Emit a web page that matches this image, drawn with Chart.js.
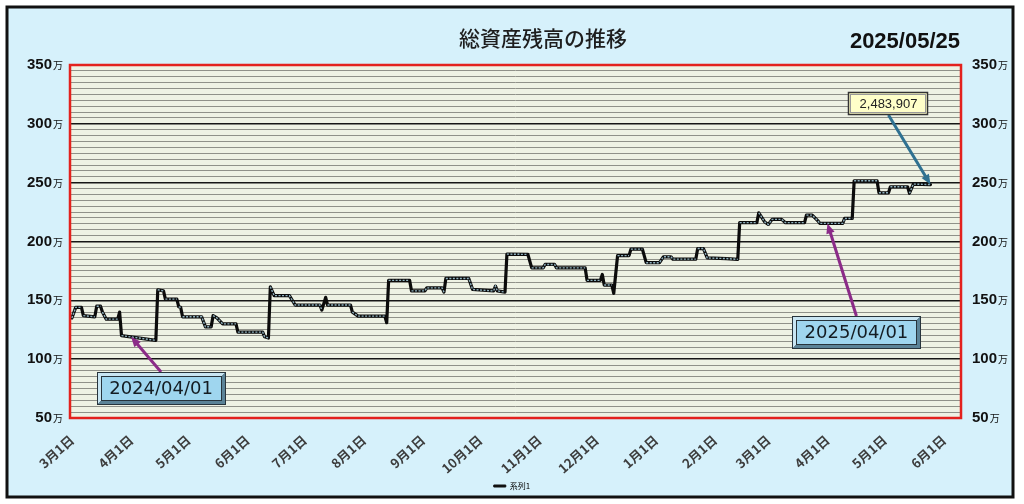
<!DOCTYPE html>
<html>
<head>
<meta charset="utf-8">
<script src="https://cdn.jsdelivr.net/npm/chart.js@4.4.1/dist/chart.umd.min.js"></script>
<style>
html, body { margin: 0; padding: 0; background: #fff; }
</style>
</head>
<body>
<canvas id="chartBalance" width="1024" height="504"></canvas>
<script>
// 総資産残高 (万円)
const dates = [
    '2024-03-01','2024-03-03','2024-03-06','2024-03-07','2024-03-13','2024-03-14','2024-03-16','2024-03-17',
    '2024-03-19','2024-03-25','2024-03-26','2024-03-27','2024-04-14','2024-04-15','2024-04-18','2024-04-19',
    '2024-04-25','2024-04-26','2024-04-27','2024-04-28','2024-05-08','2024-05-10','2024-05-13','2024-05-14',
    '2024-05-16','2024-05-19','2024-05-26','2024-05-27','2024-06-09','2024-06-10','2024-06-12','2024-06-13',
    '2024-06-15','2024-06-23','2024-06-26','2024-07-09','2024-07-10','2024-07-12','2024-07-13','2024-07-25',
    '2024-07-26','2024-07-29','2024-08-12','2024-08-13','2024-08-14','2024-08-25','2024-08-26','2024-09-02',
    '2024-09-03','2024-09-11','2024-09-12','2024-09-13','2024-09-25','2024-09-27','2024-10-08','2024-10-09',
    '2024-10-10','2024-10-14','2024-10-15','2024-10-26','2024-10-28','2024-11-03','2024-11-04','2024-11-09',
    '2024-11-10','2024-11-25','2024-11-26','2024-12-03','2024-12-04','2024-12-05','2024-12-09','2024-12-10',
    '2024-12-12','2024-12-18','2024-12-19','2024-12-25','2024-12-27','2025-01-03','2025-01-05','2025-01-09',
    '2025-01-10','2025-01-22','2025-01-23','2025-01-26','2025-01-28','2025-02-07','2025-02-13','2025-02-14',
    '2025-02-23','2025-02-24','2025-02-27','2025-03-01','2025-03-03','2025-03-08','2025-03-10','2025-03-20',
    '2025-03-21','2025-03-24','2025-03-27','2025-03-28','2025-04-09','2025-04-10','2025-04-14','2025-04-15',
    '2025-04-27','2025-04-28','2025-05-03','2025-05-04','2025-05-13','2025-05-14','2025-05-16','2025-05-25'
];
const balances = [
    135, 144, 144, 137, 136, 145, 145, 140,
    134, 134, 140, 120, 116, 159, 158, 151,
    151, 144.5, 144, 136, 136, 127.5, 127.5, 137,
    135, 130, 130, 123, 123, 119, 118, 161.5,
    154, 154, 146, 146, 141.7, 152.5, 146, 146,
    140, 136.6, 136.6, 131, 167, 167, 158, 158,
    160.6, 160.6, 157, 168.6, 168.6, 159.3, 158, 162,
    158, 157, 189.3, 189, 177.6, 177.6, 180.5, 180.5,
    177.6, 177.6, 167, 167, 172, 163, 163, 156,
    188, 188, 193.5, 193.5, 182, 182, 187, 187,
    185, 185, 194, 194, 186, 185.5, 184.8, 216,
    216, 224.4, 216.8, 214.5, 218.8, 218.8, 216, 216,
    222.4, 222.4, 217.6, 215.4, 215.4, 219.6, 219.6, 251.6,
    251.6, 241.4, 241.4, 246.5, 246.5, 241, 248.8, 248.3907
];

const tickDates = [
    '2024-03-01','2024-04-01','2024-05-01','2024-06-01','2024-07-01','2024-08-01','2024-09-01','2024-10-01',
    '2024-11-01','2024-12-01','2025-01-01','2025-02-01','2025-03-01','2025-04-01','2025-05-01','2025-06-01'
];
const tickLabels = [
    '3月1日','4月1日','5月1日','6月1日','7月1日','8月1日','9月1日','10月1日',
    '11月1日','12月1日','1月1日','2月1日','3月1日','4月1日','5月1日','6月1日'
];
const yLabels = [50, 100, 150, 200, 250, 300, 350];

const noteDates = ['2024-04-01', '2025-04-01', '2025-05-25'];
const noteValues = [119, 215.4, 248.3907];
const noteTexts = ['2024/04/01', '2025/04/01', '2,483,907'];

const titleText = '総資産残高の推移';
const dateText = '2025/05/25';
const seriesName = '系列1';

function dayOf(s) {
    const p = s.split('-').map(Number);
    return (Date.UTC(p[0], p[1] - 1, p[2]) - Date.UTC(2024, 2, 1)) / 86400000;
}

const points = dates.map((d, i) => ({ x: dayOf(d), y: balances[i] }));
const tickDays = tickDates.map(dayOf);

// callout boxes: offset of box centre from the arrow tip
const noteStyle = [
    { dx: 30, dy: 52, w: 129, h: 33, bevel: true, arrow: '#8b2b88' },
    { dx: 29, dy: 109, w: 129, h: 33, bevel: true, arrow: '#8b2b88' },
    { dx: -42, dy: -81, w: 80, h: 23, bevel: false, arrow: '#2f7191' }
];

function arrow(c, x0, y0, x1, y1, color) {
    const ang = Math.atan2(y1 - y0, x1 - x0);
    const len = 11;
    c.strokeStyle = color;
    c.fillStyle = color;
    c.lineWidth = 3;
    c.beginPath();
    c.moveTo(x0, y0);
    c.lineTo(x1 - Math.cos(ang) * len * 0.8, y1 - Math.sin(ang) * len * 0.8);
    c.stroke();
    c.beginPath();
    c.moveTo(x1, y1);
    c.lineTo(x1 - len * Math.cos(ang - 0.4), y1 - len * Math.sin(ang - 0.4));
    c.lineTo(x1 - len * Math.cos(ang + 0.4), y1 - len * Math.sin(ang + 0.4));
    c.closePath();
    c.fill();
}

function bevelBox(c, x, y, w, h) {
    c.fillStyle = '#27343c';
    c.fillRect(x, y, w, h);
    // light top/left
    c.fillStyle = '#c9e6f3';
    c.beginPath();
    c.moveTo(x + 1, y + 1); c.lineTo(x + w - 1, y + 1); c.lineTo(x + w - 5, y + 5);
    c.lineTo(x + 5, y + 5); c.lineTo(x + 5, y + h - 5); c.lineTo(x + 1, y + h - 1);
    c.closePath(); c.fill();
    // dark bottom/right
    c.fillStyle = '#5b8397';
    c.beginPath();
    c.moveTo(x + w - 1, y + 1); c.lineTo(x + w - 1, y + h - 1); c.lineTo(x + 1, y + h - 1);
    c.lineTo(x + 5, y + h - 5); c.lineTo(x + w - 5, y + h - 5); c.lineTo(x + w - 5, y + 5);
    c.closePath(); c.fill();
    c.fillStyle = '#9fd6ef';
    c.fillRect(x + 5, y + 5, w - 10, h - 10);
    c.strokeStyle = '#27343c';
    c.lineWidth = 1;
    c.strokeRect(x + 4.5, y + 4.5, w - 9, h - 9);
}

const framePlugin = {
    id: 'frame',
    beforeDraw(chart) {
        const c = chart.ctx, a = chart.chartArea;
        c.save();
        c.fillStyle = '#fff';
        c.fillRect(0, 0, chart.width, chart.height);
        c.fillStyle = '#d6f1fb';
        c.fillRect(7, 7, 1006, 490);
        c.lineWidth = 3;
        c.strokeStyle = '#111';
        c.strokeRect(7, 7, 1006, 490);
        c.fillStyle = '#eef2e4';
        c.fillRect(a.left, a.top, a.right - a.left, a.bottom - a.top);
        c.restore();
    },
    afterDraw(chart) {
        const c = chart.ctx, a = chart.chartArea;
        const xs = chart.scales.x, ys = chart.scales.y;
        c.save();

        c.strokeStyle = '#e3211d';
        c.lineWidth = 2.5;
        c.strokeRect(a.left, a.top, a.right - a.left, a.bottom - a.top);

        // 万 labels on both sides
        yLabels.forEach(v => {
            const y = ys.getPixelForValue(v) + 4;
            c.fillStyle = '#111';
            c.font = 'bold 15px "Liberation Sans", Arial, sans-serif';
            const num = String(v);
            c.textBaseline = 'alphabetic';
            c.textAlign = 'right';
            c.fillText(num, a.left - 18, y);
            c.font = '10px "Noto Sans CJK JP", sans-serif';
            c.textAlign = 'left';
            c.fillText('万', a.left - 17, y);
            c.font = 'bold 15px "Liberation Sans", Arial, sans-serif';
            const wNum = c.measureText(num).width;
            c.fillText(num, a.right + 11, y);
            c.font = '10px "Noto Sans CJK JP", sans-serif';
            c.fillText('万', a.right + 12 + wNum, y);
        });

        c.fillStyle = '#1e1e1e';
        c.textAlign = 'center';
        c.textBaseline = 'middle';
        c.font = '500 21px "Noto Sans CJK JP", sans-serif';
        c.fillText(titleText, 543, 38);
        c.fillStyle = '#111';
        c.textAlign = 'right';
        c.font = 'bold 22px "Liberation Sans", Arial, sans-serif';
        c.fillText(dateText, 960, 42);

        noteDates.forEach((d, i) => {
            const s = noteStyle[i];
            const tx = xs.getPixelForValue(dayOf(d));
            const ty = ys.getPixelForValue(noteValues[i]);
            const cx = tx + s.dx, cy = ty + s.dy;
            const bx = Math.round(cx - s.w / 2), by = Math.round(cy - s.h / 2);
            const startY = s.dy > 0 ? by : by + s.h;
            arrow(c, cx, startY, tx, ty, s.arrow);
            if (s.bevel) {
                bevelBox(c, bx, by, s.w, s.h);
                c.fillStyle = '#141c22';
                c.font = '18px "DejaVu Sans", sans-serif';
            } else {
                c.fillStyle = '#ffffc9';
                c.fillRect(bx, by, s.w, s.h);
                c.strokeStyle = '#333';
                c.lineWidth = 1.5;
                c.strokeRect(bx + 0.5, by + 0.5, s.w - 1, s.h - 1);
                c.strokeStyle = '#999';
                c.lineWidth = 1;
                c.strokeRect(bx + 2.5, by + 2.5, s.w - 5, s.h - 5);
                c.fillStyle = '#222';
                c.font = '13px "Liberation Sans", Arial, sans-serif';
            }
            c.textAlign = 'center';
            c.textBaseline = 'middle';
            c.fillText(noteTexts[i], cx, cy + 1);
        });
        c.restore();
    }
};

const steep = ctx => Math.abs(ctx.p1.y - ctx.p0.y) > 3 * Math.abs(ctx.p1.x - ctx.p0.x);

new Chart(document.getElementById('chartBalance'), {
    type: 'line',
    data: {
        datasets: [
            {
                label: seriesName,
                data: points,
                borderColor: '#0b0b0b',
                borderWidth: 3.2,
                borderJoinStyle: 'round',
                borderCapStyle: 'round',
                pointRadius: 0,
                tension: 0,
                order: 2
            },
            {
                label: 'marker',
                data: points,
                borderColor: '#8fb2bf',
                borderWidth: 1.4,
                borderDash: [2, 1.5],
                pointRadius: 0,
                tension: 0,
                order: 1,
                segment: { borderColor: ctx => steep(ctx) ? 'rgba(0,0,0,0)' : '#8fb2bf' }
            }
        ]
    },
    options: {
        responsive: false,
        animation: false,
        devicePixelRatio: 1,
        layout: { padding: { top: 65, left: 12, right: 12, bottom: 4 } },
        scales: {
            x: {
                type: 'linear',
                min: -1,
                max: 466,
                afterBuildTicks: s => { s.ticks = tickDays.map(v => ({ value: v })); },
                ticks: {
                    autoSkip: false,
                    minRotation: 42,
                    maxRotation: 42,
                    padding: 6,
                    color: '#3d3d3d',
                    font: { weight: 'bold', size: 13, family: '"Noto Sans CJK JP", sans-serif' },
                    callback: v => tickLabels[tickDays.indexOf(v)]
                },
                grid: { display: false },
                border: { display: false },
                afterFit: s => { s.height = 60; }
            },
            y: {
                position: 'left',
                min: 50,
                max: 350,
                ticks: { stepSize: 5, autoSkip: false, callback: () => '', padding: 0 },
                grid: {
                    drawTicks: false,
                    color: ctx => ctx.tick.value % 50 === 0 ? '#161616' : '#8f9189',
                    lineWidth: ctx => ctx.tick.value % 50 === 0 ? 1.5 : 1
                },
                border: { display: false },
                afterFit: s => { s.width = 58; }
            },
            y2: {
                position: 'right',
                min: 50,
                max: 350,
                ticks: { display: false },
                grid: { display: false },
                border: { display: false },
                afterFit: s => { s.width = 51; }
            }
        },
        plugins: {
            tooltip: { enabled: false },
            legend: {
                position: 'bottom',
                labels: {
                    boxWidth: 12,
                    boxHeight: 2,
                    padding: 4,
                    color: '#777',
                    font: { size: 8, family: '"Noto Sans CJK JP", sans-serif' },
                    generateLabels: () => [{
                        text: seriesName, fillStyle: '#111', strokeStyle: '#111',
                        lineWidth: 1, hidden: false, datasetIndex: 0
                    }]
                }
            }
        }
    },
    plugins: [framePlugin]
});
</script>
</body>
</html>
